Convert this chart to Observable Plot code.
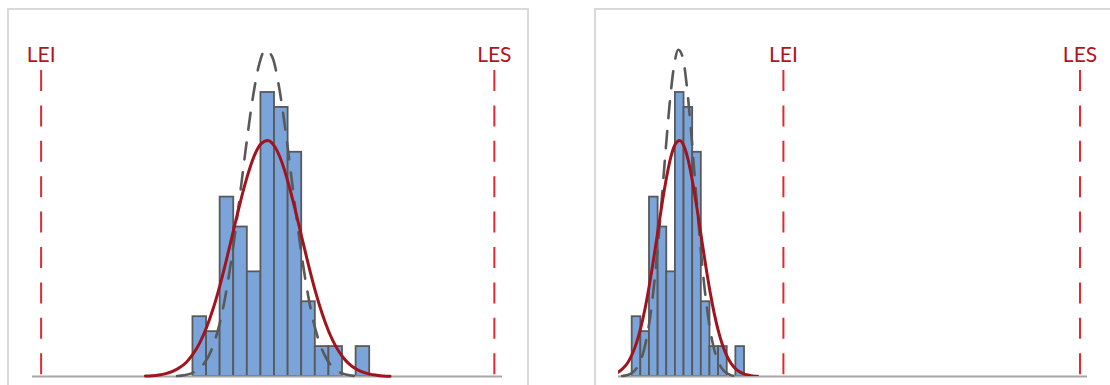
<!DOCTYPE html>
<html>
<head>
<meta charset="utf-8">
<script src="https://cdn.jsdelivr.net/npm/d3@7"></script>
<script src="https://cdn.jsdelivr.net/npm/@observablehq/plot@0.6"></script>
<style>
  html, body { margin: 0; padding: 0; background: #ffffff; overflow: hidden; }
  .frame { position: absolute; box-sizing: border-box; border: 2px solid #D9D9D9; }
  .panel { position: absolute; width: 520px; height: 376px; }
  .panel svg { max-width: none !important; }
</style>
</head>
<body>
<div class="frame" style="left:7px;top:8px;width:522px;height:420px"></div>
<div class="frame" style="left:594px;top:8px;width:522px;height:420px"></div>
<div id="p1" class="panel" style="left:8px;top:9px"></div>
<div id="p2" class="panel" style="left:595px;top:9px"></div>
<script>
// Histogram bins (edges) and counts
const binEdges = [33.5, 36.5, 39.5, 42.5, 45.5, 48.5, 51.5, 54.5, 57.5, 60.5, 63.5, 66.5, 69.5, 72.5];
const counts   = [4, 3, 12, 10, 7, 19, 18, 15, 5, 2, 2, 0, 2];

// Overall fitted curve (solid dark red), in count units
const overallX = [23, 24.5, 26, 27.5, 29, 30.5, 32, 33.5, 35, 36.5, 38, 39.5, 41, 42.5, 44, 45.5, 47, 48.5, 50,
                  51.5, 53, 54.5, 56, 57.5, 59, 60.5, 62, 63.5, 65, 66.5, 68, 69.5, 71, 72.5, 74, 75.5, 77];
const overallY = [0.03, 0.05, 0.10, 0.19, 0.34, 0.58, 0.94, 1.49, 2.25, 3.28, 4.58, 6.15, 7.94, 9.84, 11.72, 13.40, 14.74, 15.56, 15.79,
                  15.40, 14.43, 12.98, 11.23, 9.33, 7.45, 5.71, 4.21, 2.98, 2.03, 1.32, 0.83, 0.50, 0.29, 0.16, 0.09, 0.04, 0.02];

// Within fitted curve (dashed gray), in count units
const withinX = [30, 31.5, 33, 34.5, 36, 37.5, 39, 40.5, 42, 43.5, 45, 46.5, 48, 49.5,
                 51, 52.5, 54, 55.5, 57, 58.5, 60, 61.5, 63, 64.5, 66, 67.5, 69];
const withinY = [0.03, 0.08, 0.19, 0.43, 0.89, 1.71, 3.08, 5.11, 7.87, 11.23, 14.86, 18.23, 20.74, 21.86,
                 21.38, 19.37, 16.27, 12.67, 9.15, 6.13, 3.80, 2.19, 1.17, 0.58, 0.26, 0.11, 0.04];

// Specification limits
const specLabels = ["LEI", "LES"];
const specLeft  = [0, 100];
const specRight = [86, 189];

// Panel x-extents (data units)
const domainLeft  = [-1.9, 101.8];
const domainRight = [28.74, 191.6];

const yTop = 20.47;

const bins = counts.map((c, i) => ({x1: binEdges[i], x2: binEdges[i + 1], y: c})).filter(d => d.y > 0);
const overall = overallX.map((x, i) => ({x, y: overallY[i]}));
const within = withinX.map((x, i) => ({x, y: withinY[i]}));

function panel(spec, xDomain, marginLeft, marginRight, clipRed) {
  const specData = spec.map((x, i) => ({x, label: specLabels[i]}));
  return Plot.plot({
    width: 520,
    height: 376,
    marginLeft,
    marginRight,
    marginTop: 61,
    marginBottom: 9,
    x: {domain: xDomain, axis: null},
    y: {domain: [0, yTop], axis: null},
    style: {background: "transparent", overflow: "visible", maxWidth: "none"},
    marks: [
      Plot.rectY(bins, {x1: "x1", x2: "x2", y: "y", fill: "#7BA5DA", stroke: "#595959", strokeWidth: 1.8}),
      Plot.ruleY([0], {stroke: "#A6A6A6", strokeWidth: 2.2}),
      Plot.ruleX(specData, {x: "x", y1: yTop, y2: 0, stroke: "#DE2A32", strokeWidth: 2, strokeDasharray: "21,14.4"}),
      Plot.line(within, {x: "x", y: "y", curve: "monotone-x", stroke: "#595959", strokeWidth: 2.6, strokeDasharray: "17,13"}),
      Plot.line(overall, {x: "x", y: "y", curve: "monotone-x", stroke: "#A0141E", strokeWidth: 3, clip: clipRed}),
      Plot.text(specData, {x: "x", y: yTop, text: "label", dy: -15, lineAnchor: "middle", textAnchor: "middle",
        fill: "#B0141E", fontSize: 21, fontFamily: "'Liberation Sans Narrow', 'Lato', sans-serif"})
    ]
  });
}

document.getElementById("p1").appendChild(panel(specLeft, domainLeft, 24, 26, false));
document.getElementById("p2").appendChild(panel(specRight, domainRight, 23, 28, true));
</script>
</body>
</html>
